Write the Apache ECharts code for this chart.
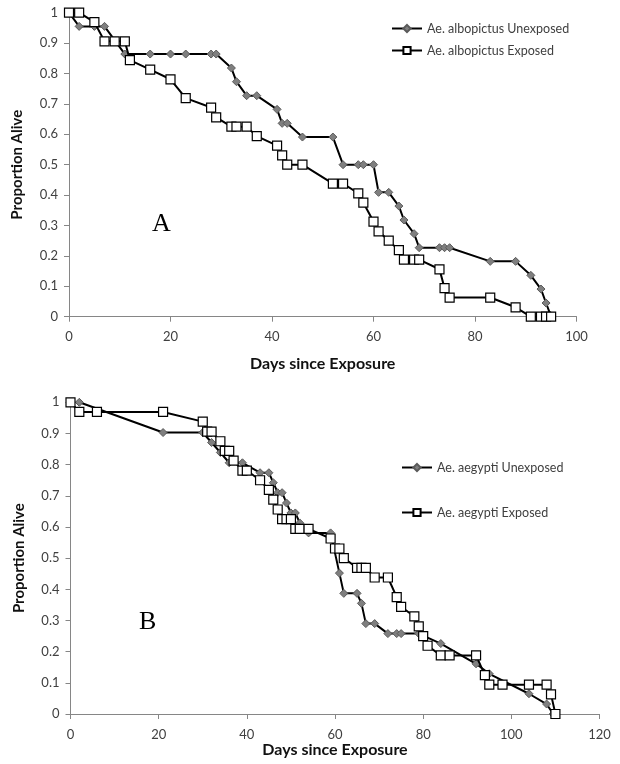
<!DOCTYPE html>
<html>
<head>
<meta charset="utf-8">
<script src="https://cdn.jsdelivr.net/npm/echarts@6/dist/echarts.min.js"></script>
<style>
html,body{margin:0;padding:0;background:#fff;}
#chart{width:620px;height:764px;}
</style>
</head>
<body>
<div id="chart"></div>
<script>
// Panel A: Ae. albopictus
const daysA_unexp = [0,2,5,7,11,16,20,23,28,29,32,33,35,37,41,42,43,46,52,54,57,58,60,61,63,65,66,68,69,73,74,75,83,88,91,93,94,95];
const propA_unexp = [1,0.955,0.955,0.955,0.864,0.864,0.864,0.864,0.864,0.864,0.818,0.773,0.727,0.727,0.682,0.636,0.636,0.591,0.591,0.5,0.5,0.5,0.5,0.409,0.409,0.364,0.318,0.273,0.227,0.227,0.227,0.227,0.182,0.182,0.136,0.091,0.045,0];
const daysA_exp = [0,2,5,7,9,11,12,16,20,23,28,29,32,33,35,37,41,42,43,46,52,54,57,58,60,61,63,65,66,68,69,73,74,75,83,88,91,93,94,95];
const propA_exp = [1,1,0.969,0.906,0.906,0.906,0.844,0.813,0.781,0.719,0.688,0.656,0.625,0.625,0.625,0.594,0.563,0.531,0.5,0.5,0.438,0.438,0.406,0.375,0.313,0.281,0.25,0.219,0.188,0.188,0.188,0.156,0.094,0.063,0.063,0.031,0,0,0,0];

// Panel B: Ae. aegypti
const daysB_unexp = [2,21,30,32,34,36,39,43,45,46,47,48,49,50,51,52,54,59,61,62,65,66,67,69,72,74,75,79,84,92,95,104,108,109.5];
const propB_unexp = [1,0.903,0.903,0.871,0.839,0.806,0.806,0.774,0.774,0.742,0.71,0.71,0.677,0.645,0.645,0.613,0.581,0.581,0.452,0.387,0.387,0.355,0.29,0.29,0.258,0.258,0.258,0.258,0.226,0.161,0.129,0.065,0.032,0];
const daysB_exp = [0,2,6,21,30,31,32,34,35,36,37,39,40,43,45,46,47,48,49,50,51,52,54,59,60,61,62,65,66,67,69,72,74,75,78,79,80,81,84,86,92,94,95,98,104,108,109,110];
const propB_exp = [1,0.969,0.969,0.969,0.938,0.906,0.906,0.875,0.844,0.844,0.813,0.781,0.781,0.75,0.719,0.688,0.656,0.625,0.625,0.625,0.594,0.594,0.594,0.563,0.531,0.531,0.5,0.469,0.469,0.469,0.438,0.438,0.375,0.344,0.313,0.281,0.25,0.219,0.188,0.188,0.188,0.125,0.094,0.094,0.094,0.094,0.063,0];

const namesA = ['Ae. albopictus Unexposed','Ae. albopictus Exposed'];
const namesB = ['Ae. aegypti Unexposed','Ae. aegypti Exposed'];
const xTitle = 'Days since Exposure';
const yTitle = 'Proportion Alive';
const panelLetters = ['A','B'];

const pair = (xs, ys) => xs.map((x, i) => [x, ys[i]]);
const FONT = 'Lato';
const axisGray = '#868686';
const labelColor = '#404040';

function xAx(gi, max, gap){
  return {
    type:'value', gridIndex:gi, min:0, max:max, interval:20,
    name:xTitle, nameLocation:'middle', nameGap:gap,
    nameTextStyle:{fontFamily:FONT, fontWeight:'bold', fontSize:16, color:'#111'},
    axisLine:{show:true, lineStyle:{color:axisGray, width:1}},
    axisTick:{show:true, length:5, lineStyle:{color:axisGray}},
    axisLabel:{fontFamily:FONT, fontSize:13, color:labelColor, margin:14},
    splitLine:{show:false}
  };
}
function yAx(gi){
  return {
    type:'value', gridIndex:gi, min:0, max:1, interval:0.1,
    name:yTitle, nameLocation:'middle', nameGap:44, nameRotate:90,
    nameTextStyle:{fontFamily:FONT, fontWeight:'bold', fontSize:15, color:'#111'},
    axisLine:{show:true, lineStyle:{color:axisGray, width:1}},
    axisTick:{show:true, length:5, lineStyle:{color:axisGray}},
    axisLabel:{fontFamily:FONT, fontSize:13, color:labelColor, margin:11},
    splitLine:{show:false}
  };
}
const unexpStyle = {
  symbol:'diamond', symbolSize:[8,8],
  itemStyle:{color:'#7f7f7f', borderColor:'#5a5a5a', borderWidth:1},
  lineStyle:{color:'#000', width:2}
};
const expStyle = {
  symbol:'rect', symbolSize:[9,9],
  itemStyle:{color:'#fff', borderColor:'#000', borderWidth:1.2},
  lineStyle:{color:'#000', width:2}
};
function ser(name, xi, data, st){
  return Object.assign({type:'line', name:name, xAxisIndex:xi, yAxisIndex:xi, data:data,
    showAllSymbol:true, animation:false, z:st.symbol==='rect'?3:2}, st);
}

const chart = echarts.init(document.getElementById('chart'), null, {renderer:'canvas'});
chart.setOption({
  animation:false,
  backgroundColor:'#fff',
  title:[
    {text:panelLetters[0], left:147, top:206, textStyle:{fontFamily:'Liberation Serif', fontWeight:'normal', fontSize:26, color:'#000'}},
    {text:panelLetters[1], left:134, top:604, textStyle:{fontFamily:'Liberation Serif', fontWeight:'normal', fontSize:26, color:'#000'}}
  ],
  grid:[
    {left:69, top:12.7, width:507.5, height:304},
    {left:70.5, top:402.3, width:529, height:311.7}
  ],
  legend:[
    {data:namesA, orient:'vertical', left:386, top:17, itemGap:9, itemWidth:30, itemHeight:9,
     textStyle:{fontFamily:FONT, fontSize:12.5, color:labelColor}},
    {data:namesB, orient:'vertical', left:396, top:456, itemGap:32, itemWidth:30, itemHeight:9,
     textStyle:{fontFamily:FONT, fontSize:12.5, color:labelColor}}
  ],
  xAxis:[xAx(0,100,39), xAx(1,120,25)],
  yAxis:[yAx(0), yAx(1)],
  series:[
    ser(namesA[0], 0, pair(daysA_unexp, propA_unexp), unexpStyle),
    ser(namesA[1], 0, pair(daysA_exp, propA_exp), expStyle),
    ser(namesB[0], 1, pair(daysB_unexp, propB_unexp), unexpStyle),
    ser(namesB[1], 1, pair(daysB_exp, propB_exp), expStyle)
  ]
});
</script>
</body>
</html>
